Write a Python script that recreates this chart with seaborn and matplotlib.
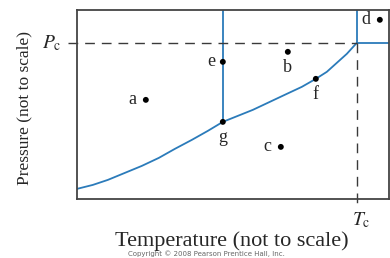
import numpy as np
import pandas as pd
import seaborn as sns
from matplotlib import pyplot as plt

# phase boundary (liquid-vapor curve)
curve_T = [0, 16, 31, 48, 65, 82, 98, 115, 131, 146, 161, 176, 193, 210, 225, 239, 250, 260, 270, 280]
curve_P = [10, 14, 19, 26, 33, 41, 50, 59, 68, 77, 83, 89, 97, 105, 112, 120, 127, 136, 145, 156]

# labelled points
pt_names = ['a', 'b', 'c', 'd', 'e', 'f', 'g']
pt_T = [69, 211, 204, 303, 146, 239, 146]
pt_P = [99, 147, 52, 179, 137, 120, 77]

Tc, Pc = 280, 156
triple_T, triple_P = 146, 77
T_max, P_max = 312, 189

sns.set_style('white')
plt.rcParams['font.family'] = ['Liberation Serif', 'DejaVu Serif']
plt.rcParams['mathtext.fontset'] = 'stix'

blue = '#2b7bba'
dash_col = '#3a3a3a'

fig = plt.figure(figsize=(3.9, 2.58), dpi=100)
ax = fig.add_axes([0.197, 0.229, 0.8, 0.733])

curve = pd.DataFrame({'T': curve_T, 'P': curve_P})
sns.lineplot(data=curve, x='T', y='P', sort=False, color=blue, lw=1.3, ax=ax)

# solid-liquid line and supercritical boundaries
ax.plot([triple_T, triple_T], [triple_P, P_max], color=blue, lw=1.3)
ax.plot([Tc, Tc], [Pc, P_max], color=blue, lw=1.3)
ax.plot([Tc, T_max], [Pc, Pc], color=blue, lw=1.3)

# critical pressure / temperature dashed guides
ax.plot([-9, Tc], [Pc, Pc], color=dash_col, lw=1.0, ls=(0, (7, 5)), clip_on=False)
ax.plot([Tc, Tc], [Pc, -7], color=dash_col, lw=1.0, ls=(0, (7, 5)), clip_on=False)

pts = pd.DataFrame({'name': pt_names, 'T': pt_T, 'P': pt_P})
sns.scatterplot(data=pts, x='T', y='P', color='black', s=18, edgecolor='none',
                ax=ax, zorder=5)

# label offsets (in points)
offs = {'a': (-10, 0), 'b': (0, -11), 'c': (-10, 0), 'd': (-10, 0),
        'e': (-8, 0), 'f': (0, -11), 'g': (0, -11)}
for n, t, p in zip(pt_names, pt_T, pt_P):
    dx, dy = offs[n]
    ax.annotate(n, (t, p), xytext=(dx, dy), textcoords='offset points',
                ha='center', va='center', fontsize=13)

ax.text(-15, Pc, r'$P_{\mathrm{c}}$', ha='right', va='center', fontsize=14)
ax.text(Tc - 5, -11, r'$T_{\mathrm{c}}$', ha='left', va='top', fontsize=14)

ax.set_xlim(0, T_max)
ax.set_ylim(0, P_max)
ax.set_xticks([])
ax.set_yticks([])
ax.set_xlabel('Temperature (not to scale)', fontsize=16)
ax.set_ylabel('Pressure (not to scale)', fontsize=12.5)
ax.xaxis.set_label_coords(0.497, -0.172)
ax.yaxis.set_label_coords(-0.141, 0.48)
for s in ax.spines.values():
    s.set_color('#444444')
    s.set_linewidth(1.3)

fig.text(0.53, 0.005, 'Copyright \u00a9 2008 Pearson Prentice Hall, Inc.',
         fontsize=5, family='DejaVu Sans', color='#666666', ha='center', va='bottom')

fig.savefig('out.png', dpi=100)
